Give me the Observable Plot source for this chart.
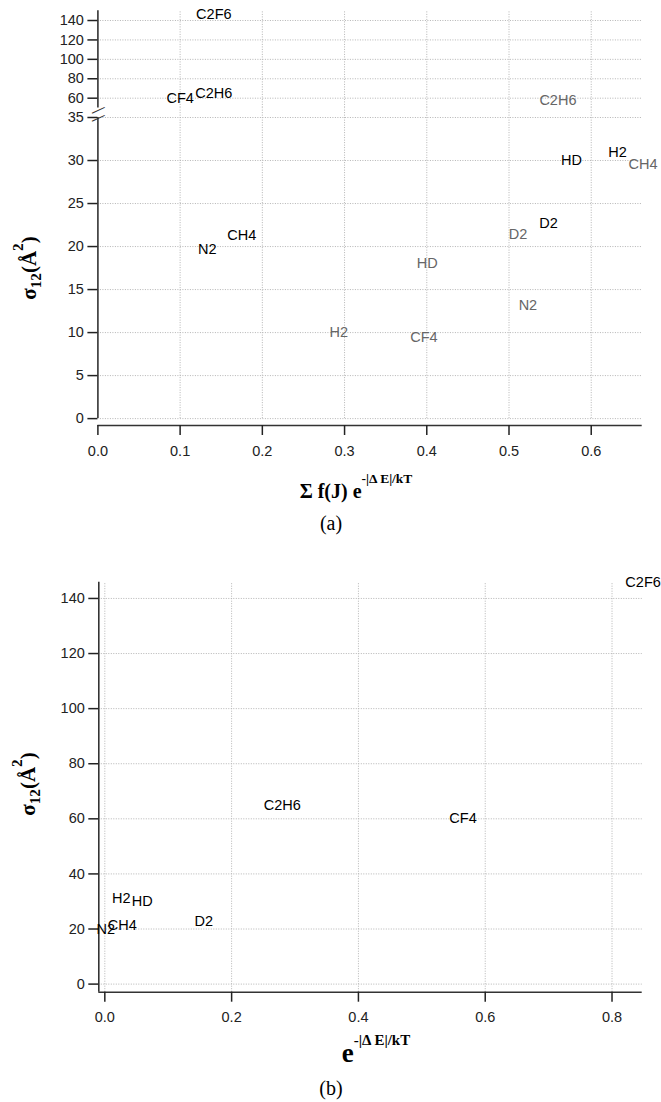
<!DOCTYPE html>
<html>
<head>
<meta charset="utf-8">
<script src="https://cdn.jsdelivr.net/npm/d3@7"></script>
<script src="https://cdn.jsdelivr.net/npm/@observablehq/plot@0.6"></script>
<style>
  body { margin: 0; background: #fff; }
  #root { position: relative; width: 661px; height: 1102px; overflow: hidden; background: #fff; }
  .panel { position: absolute; left: 0; }
  .serif { position: absolute; font-family: "Liberation Serif", "Times New Roman", serif; font-weight: bold; white-space: nowrap; color: #000; line-height: 1; }
  .ytitle { font-size: 21px; transform: translate(-50%, -50%) rotate(-90deg); }
  .ytitle .sb { font-size: 0.72em; position: relative; top: 0.3em; }
  .ytitle .sp { font-size: 0.72em; position: relative; top: -0.85em; }
  .xtitle { transform: translateX(-50%); }
  .cap { position: absolute; font-family: "Liberation Serif", "Times New Roman", serif; font-size: 20px; line-height: 1; transform: translate(-50%, -50%); color: #000; }
</style>
</head>
<body>
<div id="root"></div>
<script>
// ---------- data ----------
const gases = ["C2F6", "CF4", "C2H6", "N2", "CH4", "HD", "H2", "D2"];
const sigma12 = [146, 60, 65, 19.7, 21.3, 30, 31, 22.7];
// panel (a), black series: Σ f(J) e^{-|ΔE|/kT}
const sumFJ = [0.141, 0.100, 0.141, 0.133, 0.175, 0.576, 0.632, 0.548];
// panel (a), grey series
const gasesGrey = ["C2H6", "CH4", "D2", "HD", "N2", "H2", "CF4"];
const sumFJGrey = [0.5595, 0.663, 0.511, 0.4006, 0.523, 0.293, 0.3965];
const sigmaGrey = [57.6, 29.6, 21.4, 18.0, 13.2, 10.0, 9.4];
// panel (b): e^{-|ΔE|/kT}
const expE = [0.849, 0.565, 0.280, 0.0016, 0.0275, 0.059, 0.026, 0.156];

// ticks
const xTicksA = [0, 0.1, 0.2, 0.3, 0.4, 0.5, 0.6];
const yTicksALow = [0, 5, 10, 15, 20, 25, 30, 35];
const yTicksAHigh = [60, 80, 100, 120, 140];
const xTicksB = [0, 0.2, 0.4, 0.6, 0.8];
const yTicksB = [0, 20, 40, 60, 80, 100, 120, 140];

// scale extents
const xMaxA = 0.662, yMinA = -0.8, breakLo = 35, gridTopLo = 36.1, breakHi = 50, yTopA = 150;
const xMinB = -0.0095, xMaxB = 0.8476, yMinB = -2.94, yMaxB = 145.9;

const blackA = gases.map((g, i) => ({gas: g, x: sumFJ[i], y: sigma12[i]}));
const greyA = gasesGrey.map((g, i) => ({gas: g, x: sumFJGrey[i], y: sigmaGrey[i]}));
const lowA = d => d.y <= breakLo;
const dataB = gases.map((g, i) => ({gas: g, x: expE[i], y: sigma12[i]}));

const AX = "#333";
const GRID = "#b4b4b4";
const font = '"Liberation Sans", Arial, Helvetica, sans-serif';
const FS = 14.5;
const baseStyle = {fontFamily: font, fontSize: FS + "px", background: "transparent", overflow: "visible"};

const root = document.getElementById("root");
function place(svg, top) {
  svg.classList.add("panel");
  svg.style.top = top + "px";
  root.appendChild(svg);
}

// ---------- panel (a), lower part (0 – 35) ----------
const plotALow = Plot.plot({
  width: 661, height: 365,
  marginLeft: 97.4, marginRight: 19.3, marginTop: 17, marginBottom: 40,
  style: baseStyle,
  x: {domain: [0, xMaxA]},
  y: {domain: [yMinA, breakLo]},
  marks: [
    Plot.ruleY(yTicksALow, {x1: 0, x2: xMaxA, stroke: GRID, strokeDasharray: "1,1.5"}),
    Plot.ruleX(xTicksA.filter(d => d > 0), {y1: 0, y2: gridTopLo, stroke: GRID, strokeDasharray: "1,1.5"}),
    Plot.ruleY([yMinA], {x1: 0, x2: xMaxA, stroke: AX, strokeWidth: 1.6}),
    Plot.ruleX([0], {y1: 0, y2: breakLo, stroke: AX, strokeWidth: 1.6}),
    Plot.text([breakLo], {x: 0, y: d => d, text: () => "\u2014", rotate: -25, fontSize: 14, fill: AX}),
    Plot.axisY({ticks: yTicksALow, tickSize: 10, tickPadding: 4, fontSize: FS, label: null, color: "#222", strokeWidth: 1.5}),
    Plot.axisX({ticks: xTicksA, tickFormat: d3.format(".1f"), tickSize: 10, tickPadding: 10, fontSize: FS, label: null, color: "#222", strokeWidth: 1.5}),
    Plot.text(greyA.filter(lowA), {x: "x", y: "y", text: "gas", fill: "#666", fontSize: FS}),
    Plot.text(blackA.filter(lowA), {x: "x", y: "y", text: "gas", fill: "#000", fontSize: FS})
  ]
});
place(plotALow, 100);

// ---------- panel (a), upper part (50 – 150) ----------
const plotAHigh = Plot.plot({
  width: 661, height: 115,
  marginLeft: 97.4, marginRight: 19.3, marginTop: 10.3, marginBottom: 7.6,
  style: baseStyle,
  x: {domain: [0, xMaxA], axis: null},
  y: {domain: [breakHi, yTopA]},
  marks: [
    Plot.ruleY(yTicksAHigh, {x1: 0, x2: xMaxA, stroke: GRID, strokeDasharray: "1,1.5"}),
    Plot.ruleX(xTicksA.filter(d => d > 0), {y1: breakHi, y2: yTopA, stroke: GRID, strokeDasharray: "1,1.5"}),
    Plot.ruleX([0], {y1: breakHi, y2: yTopA, stroke: AX, strokeWidth: 1.6}),
    Plot.text([breakHi], {x: 0, y: d => d, text: () => "\u2014", rotate: -25, fontSize: 14, fill: AX, dy: 1.5}),
    Plot.axisY({ticks: yTicksAHigh, tickSize: 10, tickPadding: 4, fontSize: FS, label: null, color: "#222", strokeWidth: 1.5}),
    Plot.text(greyA.filter(d => !lowA(d)), {x: "x", y: "y", text: "gas", fill: "#666", fontSize: FS}),
    Plot.text(blackA.filter(d => !lowA(d)), {x: "x", y: "y", text: "gas", fill: "#000", fontSize: FS})
  ]
});
place(plotAHigh, 0);

// ---------- panel (b) ----------
const plotB = Plot.plot({
  width: 661, height: 470,
  marginLeft: 98.3, marginRight: 19.3, marginTop: 21.7, marginBottom: 38.3,
  style: baseStyle,
  x: {domain: [xMinB, xMaxB]},
  y: {domain: [yMinB, yMaxB]},
  marks: [
    Plot.ruleY(yTicksB, {x1: xMinB, x2: xMaxB, stroke: GRID, strokeDasharray: "1,1.5"}),
    Plot.ruleX(xTicksB, {y1: yMinB, y2: yMaxB, stroke: GRID, strokeDasharray: "1,1.5"}),
    Plot.ruleY([yMinB], {x1: xMinB, x2: xMaxB, stroke: AX, strokeWidth: 1.6}),
    Plot.ruleX([xMinB], {y1: yMinB, y2: yMaxB, stroke: AX, strokeWidth: 1.6}),
    Plot.axisY({ticks: yTicksB, tickSize: 10, tickPadding: 4, fontSize: FS, label: null, color: "#222", strokeWidth: 1.5}),
    Plot.axisX({ticks: xTicksB, tickFormat: d3.format(".1f"), tickSize: 10, tickPadding: 10, fontSize: FS, label: null, color: "#222", strokeWidth: 1.5}),
    Plot.text(dataB, {x: "x", y: "y", text: "gas", fill: "#000", fontSize: FS})
  ]
});
place(plotB, 560);

// ---------- titles & captions ----------
function addHTML(cls, html, left, top) {
  const d = document.createElement("div");
  d.className = cls;
  d.innerHTML = html;
  d.style.left = left + "px";
  d.style.top = top + "px";
  root.appendChild(d);
  return d;
}
const yTitle = 'σ<span class="sb">12</span>(Å<span class="sp">2</span>)';
addHTML("serif ytitle", yTitle, 29, 268);
addHTML("serif ytitle", yTitle, 28, 784);

addHTML("serif xtitle",
  '<span style="font-size:20px">Σ f(J) e</span><span style="font-size:13.5px;position:relative;top:-15px">-|Δ E|/kT</span>',
  356, 481);
addHTML("serif xtitle",
  '<span style="font-size:27px">e</span><span style="font-size:15px;position:relative;top:-17px">-|Δ E|/kT</span>',
  376, 1040);

addHTML("cap", "(a)", 331, 523);
addHTML("cap", "(b)", 331, 1088);
</script>
</body>
</html>
